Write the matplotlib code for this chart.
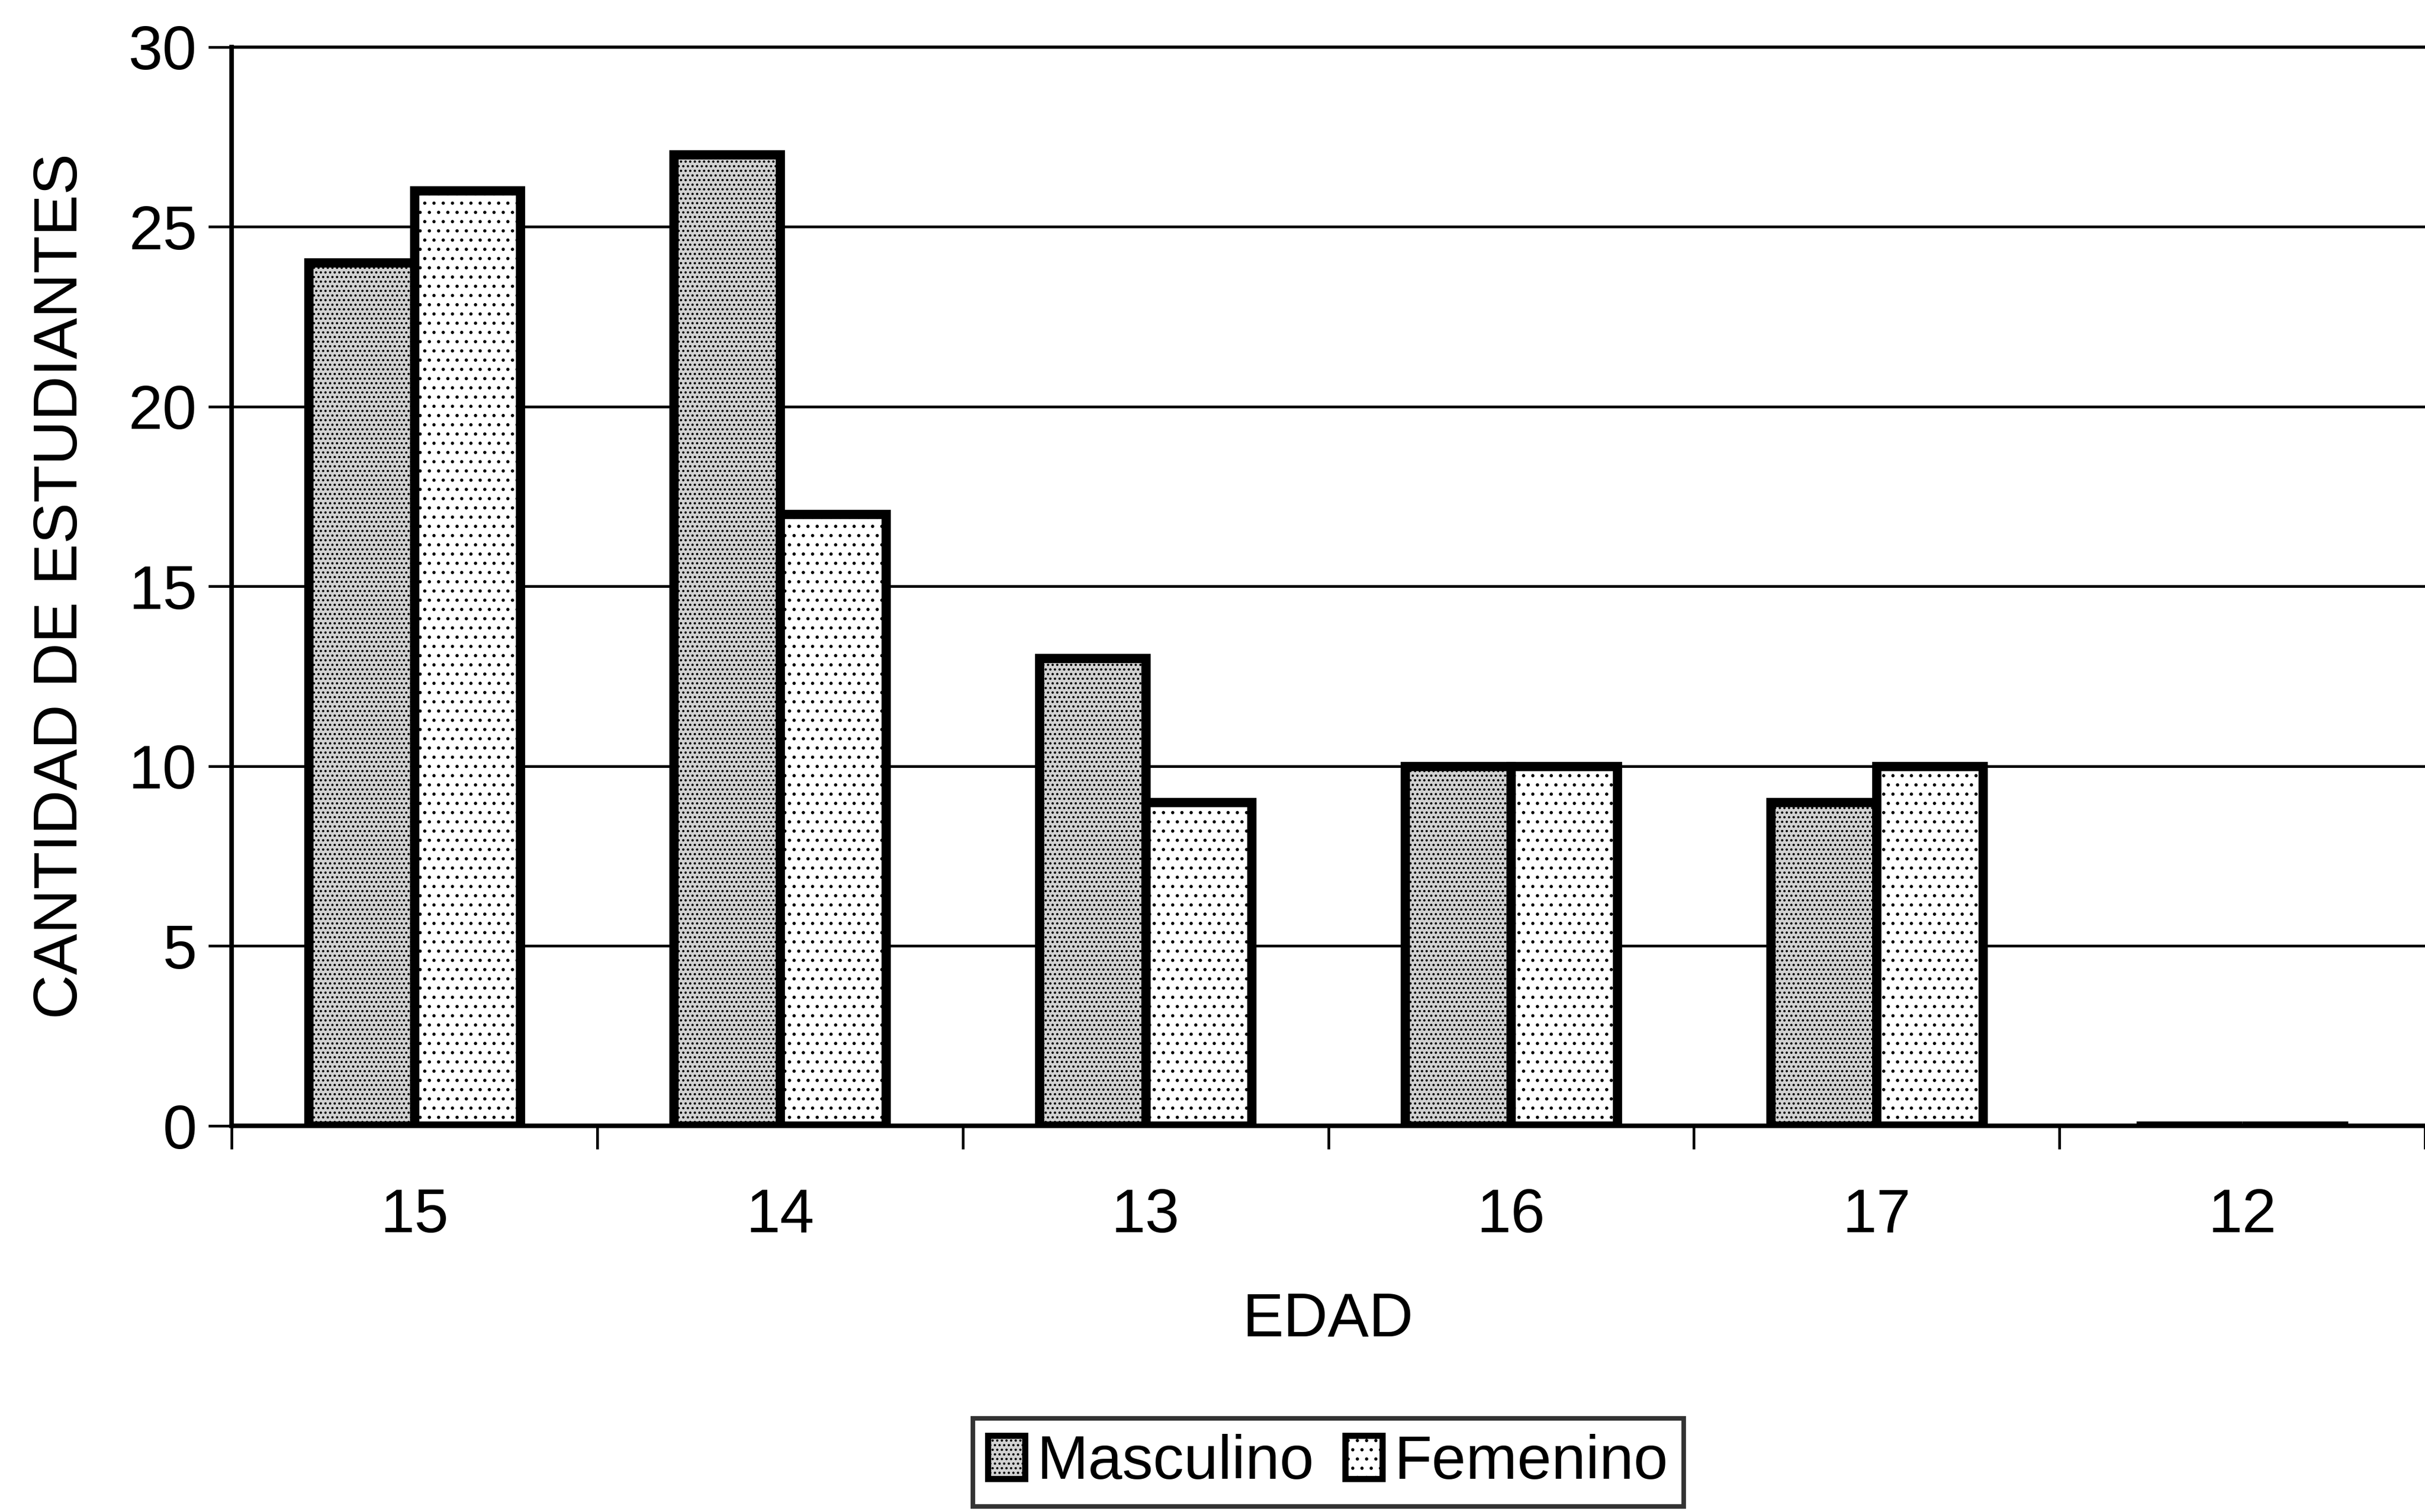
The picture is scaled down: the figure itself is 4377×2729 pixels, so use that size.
import numpy as np
import matplotlib
matplotlib.use("Agg")
import matplotlib.pyplot as plt

plt.rcParams['font.family'] = ['Liberation Sans', 'DejaVu Sans']
plt.rcParams['hatch.linewidth'] = 1.8

# data
edades = ["15", "14", "13", "16", "17", "12"]
masculino = [24, 27, 13, 10, 9, 0]
femenino = [26, 17, 9, 10, 10, 0]

fig = plt.figure(figsize=(43.77, 27.29), dpi=100)
ax = fig.add_axes([0.0955, 0.2554, 0.9045, 0.7136])

x = np.arange(len(edades))
w = 0.29
ax.bar(x - w/2, masculino, width=w, facecolor='#d2d2d2', edgecolor='black',
       linewidth=12, hatch='..', label='Masculino', zorder=3)
ax.bar(x + w/2, femenino, width=w, facecolor='white', edgecolor='black',
       linewidth=12, hatch='.', label='Femenino', zorder=3)

ax.set_xlim(-0.5, len(edades) - 0.5)
ax.set_ylim(0, 30)
ax.set_yticks(np.arange(0, 31, 5))
ax.yaxis.grid(True, color='black', linewidth=3.5, zorder=0)
ax.set_axisbelow(True)

ax.set_xticks(x)
ax.set_xticklabels(edades)
ax.set_xticks(np.arange(-0.5, len(edades)), minor=True)
ax.tick_params(axis='x', which='major', length=0, labelsize=80, pad=80)
ax.tick_params(axis='x', which='minor', length=30, width=3.5)
ax.tick_params(axis='y', length=30, width=3.5, labelsize=80, pad=15)

for s in ['left', 'bottom']:
    ax.spines[s].set_linewidth(6)
ax.spines['top'].set_linewidth(4)
ax.spines['right'].set_visible(False)

ax.set_xlabel("EDAD", fontsize=80, labelpad=60)
ax.set_ylabel("CANTIDAD DE ESTUDIANTES", fontsize=80, labelpad=50)

leg = ax.legend(loc='center', bbox_to_anchor=(0.5, -0.312), ncol=2,
                fontsize=80, frameon=True, fancybox=False, edgecolor='black',
                handlelength=0.6, handleheight=0.7, handletextpad=0.2,
                columnspacing=0.5, borderpad=0.25)
leg.get_frame().set_linewidth(6)
for p in leg.get_patches():
    p.set_linewidth(8)

fig.savefig("out.png", dpi=100, facecolor='white')
